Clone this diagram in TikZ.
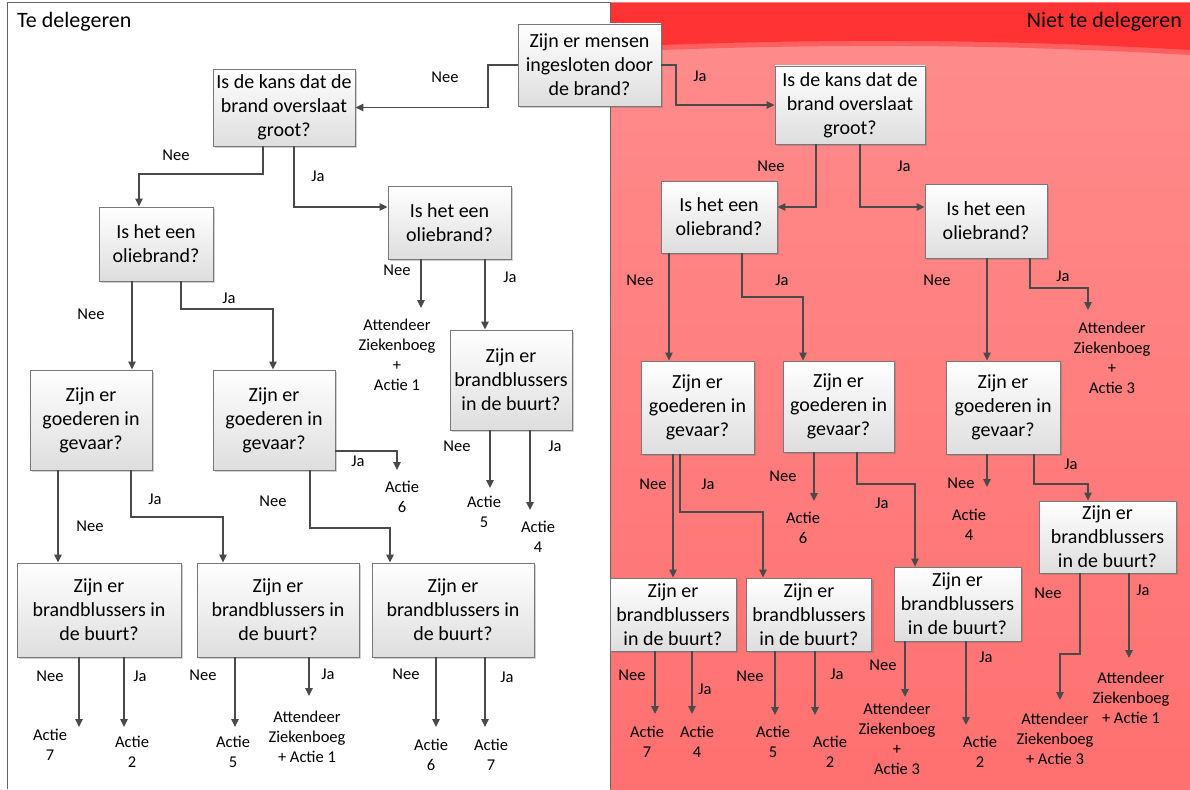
\documentclass[tikz,border=0pt]{standalone}
\usepackage{fontspec}
\setmainfont{Carlito}
\usetikzlibrary{arrows.meta,shadows}

\definecolor{wire}{RGB}{74,74,74}
\definecolor{boxline}{RGB}{120,120,120}
\definecolor{boxbot}{RGB}{222,222,222}
\definecolor{txt}{RGB}{0,0,0}
\definecolor{pinktop}{RGB}{255,140,140}
\definecolor{pinkbot}{RGB}{255,112,112}
\definecolor{redband}{RGB}{255,51,51}
\definecolor{redsoft}{RGB}{255,95,95}
\definecolor{frame}{RGB}{100,100,100}

\tikzset{
  box/.style={draw=boxline, line width=0.9pt, top color=white, bottom color=boxbot,
    drop shadow={shadow xshift=2pt, shadow yshift=-2pt, fill=black!60, opacity=0.3},
    align=center, inner sep=2pt, text=txt, font=\fontsize{20}{24}\selectfont},
  lbl/.style={align=center, inner sep=0pt, text=txt, font=\fontsize{16.5}{20}\selectfont},
  hdr/.style={inner sep=0pt, text=txt, font=\fontsize{22}{26}\selectfont},
  arr/.style={draw=wire, line width=1.3pt, -{Triangle[length=8pt,width=7.5pt]}},
}

\begin{document}
\begin{tikzpicture}[x=1pt,y=-1pt]
\useasboundingbox (0,0) rectangle (1190,789);

% ---- the two lanes ----
\fill[white] (0,0) rectangle (1190,789);
\fill[top color=pinktop, bottom color=pinkbot] (610,3) rectangle (1190,789);
\fill[redsoft] (610,3) -- (1190,3) -- (1190,55) .. controls (1000,44) and (820,43) .. (610,52) -- cycle;
\fill[redband] (610,3) -- (1190,3) -- (1190,50) .. controls (1000,39) and (820,38) .. (610,47) -- cycle;
\draw[frame, line width=1pt] (7,789) -- (7,3) -- (610,3) -- (610,789);

\node[hdr, anchor=base west] (hleft) at (17,28) {Te delegeren};
\node[hdr, anchor=base east] (hright) at (1182,28) {Niet te delegeren};

% ---- decision boxes ----
\node[box, minimum width=143pt, minimum height=82pt] (B0) at (589.5,65) {Zijn er mensen\\ingesloten door\\de brand?};

\node[box, minimum width=142pt, minimum height=77pt] (L1) at (284,107.5) {Is de kans dat de\\brand overslaat\\groot?};
\node[box, minimum width=114pt, minimum height=74pt] (LL2) at (156,244) {Is het een\\oliebrand?};
\node[box, minimum width=123pt, minimum height=73pt] (LR2) at (449.5,222.5) {Is het een\\oliebrand?};
\node[box, minimum width=122pt, minimum height=100pt] (LL3) at (91,420) {Zijn er\\goederen in\\gevaar?};
\node[box, minimum width=122pt, minimum height=100pt] (LM3) at (274,420) {Zijn er\\goederen in\\gevaar?};
\node[box, minimum width=122pt, minimum height=100pt] (LR3) at (511,380) {Zijn er\\brandblussers\\in de buurt?};
\node[box, minimum width=164pt, minimum height=94pt] (LL4) at (99,610) {Zijn er\\brandblussers in\\de buurt?};
\node[box, minimum width=162pt, minimum height=94pt] (LM4) at (278,610) {Zijn er\\brandblussers in\\de buurt?};
\node[box, minimum width=162pt, minimum height=94pt] (LR4) at (453,610) {Zijn er\\brandblussers in\\de buurt?};

\node[box, minimum width=150pt, minimum height=78pt] (R1) at (850,105) {Is de kans dat de\\brand overslaat\\groot?};
\node[box, minimum width=116pt, minimum height=72pt] (RL2) at (719,217) {Is het een\\oliebrand?};
\node[box, minimum width=122pt, minimum height=74pt] (RR2) at (986,221) {Is het een\\oliebrand?};
\node[box, minimum width=113pt, minimum height=93pt] (RL3) at (697.5,407.5) {Zijn er\\goederen in\\gevaar?};
\node[box, minimum width=111pt, minimum height=91pt] (RM3) at (838.5,406.5) {Zijn er\\goederen in\\gevaar?};
\node[box, minimum width=114pt, minimum height=93pt] (RR3) at (1003,407.5) {Zijn er\\goederen in\\gevaar?};
\node[box, minimum width=126pt, minimum height=73pt] (RL4) at (673,614.5) {Zijn er\\brandblussers\\in de buurt?};
\node[box, minimum width=125pt, minimum height=73pt] (RM4) at (809,614.5) {Zijn er\\brandblussers\\in de buurt?};
\node[box, minimum width=127pt, minimum height=74pt] (RX4) at (957.5,604) {Zijn er\\brandblussers\\in de buurt?};
\node[box, minimum width=137pt, minimum height=72pt] (RR4) at (1107.5,537) {Zijn er\\brandblussers\\in de buurt?};

% ---- outcomes ----
\node[lbl] (oA1) at (397,355) {Attendeer\\Ziekenboeg\\+\\Actie 1};
\node[lbl] (oL5) at (484,512) {Actie\\5};
\node[lbl] (oL4) at (538,537) {Actie\\4};
\node[lbl] (oL6) at (402,497) {Actie\\6};
\node[lbl] (oLL7) at (50,745) {Actie\\7};
\node[lbl] (oLL2) at (132,752) {Actie\\2};
\node[lbl] (oLM5) at (233,752) {Actie\\5};
\node[lbl] (oLM1) at (307,737) {Attendeer\\Ziekenboeg\\+ Actie 1};
\node[lbl] (oLR6) at (431,755) {Actie\\6};
\node[lbl] (oLR7) at (491,755) {Actie\\7};

\node[lbl] (oR3) at (1112,357.5) {Attendeer\\Ziekenboeg\\+\\Actie 3};
\node[lbl] (oRM6) at (803,528) {Actie\\6};
\node[lbl] (oRR4) at (969,525) {Actie\\4};
\node[lbl] (oRL7) at (647,742) {Actie\\7};
\node[lbl] (oRL4) at (697,742) {Actie\\4};
\node[lbl] (oRM5) at (773,742) {Actie\\5};
\node[lbl] (oRM2) at (830,752) {Actie\\2};
\node[lbl] (oRX3) at (897,739) {Attendeer\\Ziekenboeg\\+\\Actie 3};
\node[lbl] (oRX2) at (980,752) {Actie\\2};
\node[lbl] (oRR3) at (1055,739) {Attendeer\\Ziekenboeg\\+ Actie 3};
\node[lbl] (oRR1) at (1131,698) {Attendeer\\Ziekenboeg\\+ Actie 1};

% ---- free arrow ends above the outcomes ----
\coordinate (eA1) at (421,308);
\coordinate (eL5) at (490,488);
\coordinate (eL4) at (530,510);
\coordinate (eL6) at (397,470);
\coordinate (eLL7) at (79,727);
\coordinate (eLL2) at (124,727);
\coordinate (eLM5) at (235,727);
\coordinate (eLM1) at (309,696);
\coordinate (eLR6) at (436,727);
\coordinate (eLR7) at (485,727);
\coordinate (eR3) at (1088,310);
\coordinate (eRM6) at (814,501);
\coordinate (eRR4) at (987,487);
\coordinate (eRL7) at (655,714);
\coordinate (eRL4) at (692,714);
\coordinate (eRM5) at (775,715);
\coordinate (eRM2) at (815,715);
\coordinate (eRX3) at (905,697);
\coordinate (eRX2) at (966,725);
\coordinate (eRR3) at (1060,700);
\coordinate (eRR1) at (1129,658);

% ---- connectors ----
\draw[arr] (B0.west) -- (488,65) |- (L1.east);
\draw[arr] (B0.east) -- (676,65) |- (R1.west);

\draw[arr] (L1.south -| 263,0) |- (139,174) -- (LL2.north -| 139,0);
\draw[arr] (L1.south -| 294,0) |- (LR2.west |- 0,207);
\draw[arr] (LL2.south -| 132,0) -- (LL3.north -| 132,0);
\draw[arr] (LL2.south -| 181,0) |- (273,309) -- (LM3.north -| 273,0);
\draw[arr] (LR2.south -| eA1) -- (eA1);
\draw[arr] (LR2.south -| 485,0) -- (LR3.north -| 485,0);
\draw[arr] (LR3.south -| eL5) -- (eL5);
\draw[arr] (LR3.south -| eL4) -- (eL4);
\draw[arr] (LM3.east |- 0,451) -| (eL6);
\draw[arr] (LM3.south -| 310,0) |- (390,528) -- (LR4.north -| 390,0);
\draw[arr] (LL3.south -| 58,0) -- (LL4.north -| 58,0);
\draw[arr] (LL3.south -| 131,0) |- (223,517) -- (LM4.north -| 223,0);
\draw[arr] (LL4.south -| eLL7) -- (eLL7);
\draw[arr] (LL4.south -| eLL2) -- (eLL2);
\draw[arr] (LM4.south -| eLM5) -- (eLM5);
\draw[arr] (LM4.south -| eLM1) -- (eLM1);
\draw[arr] (LR4.south -| eLR6) -- (eLR6);
\draw[arr] (LR4.south -| eLR7) -- (eLR7);

\draw[arr] (R1.south -| 816,0) |- (RL2.east |- 0,207);
\draw[arr] (R1.south -| 860,0) |- (RR2.west |- 0,207);
\draw[arr] (RL2.south -| 669,0) -- (RL3.north -| 669,0);
\draw[arr] (RL2.south -| 742,0) |- (803,297) -- (RM3.north -| 803,0);
\draw[arr] (RR2.south -| 987,0) -- (RR3.north -| 987,0);
\draw[arr] (RR2.south -| 1030,0) |- (1088,288) -- (eR3);
\draw[arr] (RL3.south -| 673,0) -- (RL4.north -| 673,0);
\draw[arr] (RL3.south -| 680,0) |- (763,512) -- (RM4.north -| 763,0);
\draw[arr] (RM3.south -| eRM6) -- (eRM6);
\draw[arr] (RM3.south -| 857,0) |- (915,484) -- (RX4.north -| 915,0);
\draw[arr] (RR3.south -| eRR4) -- (eRR4);
\draw[arr] (RR3.south -| 1034,0) |- (1088,484) -- (RR4.north -| 1088,0);
\draw[arr] (RL4.south -| eRL7) -- (eRL7);
\draw[arr] (RL4.south -| eRL4) -- (eRL4);
\draw[arr] (RM4.south -| eRM5) -- (eRM5);
\draw[arr] (RM4.south -| eRM2) -- (eRM2);
\draw[arr] (RX4.south -| eRX3) -- (eRX3);
\draw[arr] (RX4.south -| eRX2) -- (eRX2);
\draw[arr] (RR4.south -| 1080,0) |- (1060,654) -- (eRR3);
\draw[arr] (RR4.south -| eRR1) -- (eRR1);

% ---- branch labels ----
\node[lbl] (n1) at (445,77) {Nee};
\node[lbl] (j1) at (700,76) {Ja};
\node[lbl] (n2) at (176,155) {Nee};
\node[lbl] (j2) at (318,176) {Ja};
\node[lbl] (n3) at (91,314) {Nee};
\node[lbl] (j3) at (229,298) {Ja};
\node[lbl] (n4) at (397,270) {Nee};
\node[lbl] (j4) at (510,277) {Ja};
\node[lbl] (n5) at (90,526) {Nee};
\node[lbl] (j5) at (155,499) {Ja};
\node[lbl] (n6) at (273,501) {Nee};
\node[lbl] (j6) at (358,461) {Ja};
\node[lbl] (n7) at (457,446) {Nee};
\node[lbl] (j7) at (555,446) {Ja};
\node[lbl] (n8) at (50,676) {Nee};
\node[lbl] (j8) at (140,676) {Ja};
\node[lbl] (n9) at (203,675) {Nee};
\node[lbl] (j9) at (328,674) {Ja};
\node[lbl] (n10) at (406,674) {Nee};
\node[lbl] (j10) at (507,677) {Ja};

\node[lbl] (n11) at (771,166) {Nee};
\node[lbl] (j11) at (904,166) {Ja};
\node[lbl] (n12) at (640,280) {Nee};
\node[lbl] (j12) at (782,280) {Ja};
\node[lbl] (n13) at (937,280) {Nee};
\node[lbl] (j13) at (1063,276) {Ja};
\node[lbl] (n14) at (653,484) {Nee};
\node[lbl] (j14) at (708,484) {Ja};
\node[lbl] (n15) at (783,476) {Nee};
\node[lbl] (j15) at (882,503) {Ja};
\node[lbl] (n16) at (961,483) {Nee};
\node[lbl] (j16) at (1071,464) {Ja};
\node[lbl] (n17) at (632,675) {Nee};
\node[lbl] (j17) at (705,689) {Ja};
\node[lbl] (n18) at (750,676) {Nee};
\node[lbl] (j18) at (837,674) {Ja};
\node[lbl] (n19) at (883,665) {Nee};
\node[lbl] (j19) at (986,657) {Ja};
\node[lbl] (n20) at (1048,593) {Nee};
\node[lbl] (j20) at (1143,590) {Ja};
\end{tikzpicture}
\end{document}
